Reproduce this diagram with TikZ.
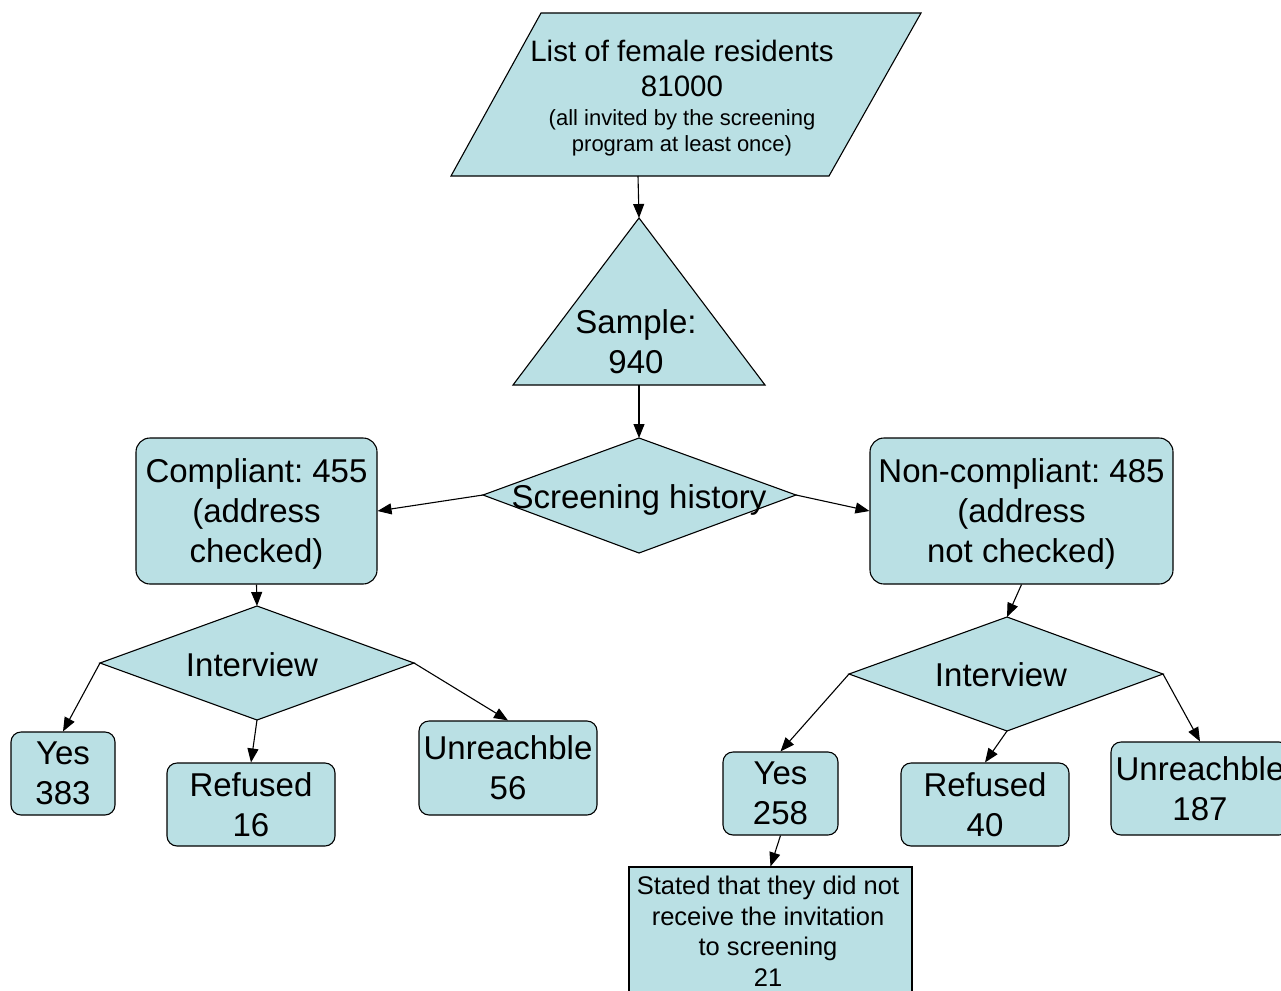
\documentclass[tikz,border=0pt]{standalone}
\usepackage{fontspec}
\setmainfont{Liberation Sans}
\usetikzlibrary{arrows.meta}
\definecolor{boxfill}{RGB}{186,224,228}
\frenchspacing
\begin{document}
\begin{tikzpicture}[x=1pt,y=-1pt,
 shp/.style={draw=black, fill=boxfill, line width=1.1pt},
 rbox/.style={shp, rounded corners=10pt, inner sep=0pt, align=center, text depth=-3.5pt, font=\fontsize{33}{40}\selectfont},
 lbl/.style={inner sep=0pt, align=center, font=\fontsize{33}{40}\selectfont},
 conn/.style={draw=black, line width=1.1pt, -{Triangle[length=14pt,width=11pt]}}
]
\useasboundingbox (0,0) rectangle (1281,990);
\fill[white] (0,0) rectangle (1281,990);
\clip (0,0) rectangle (1281,990);

% parallelogram
\draw[shp] (541,13) -- (921,13) -- (829,176) -- (451,176) -- cycle;
\coordinate (pB) at (638,176);
\node[lbl, font=\fontsize{29.5}{35}\selectfont] (title) at (682,68) {List of female residents\\81000};
\node[lbl, font=\fontsize{22}{26}\selectfont] (subtitle) at (682,133) {(all invited by the screening\\program at least once)};

% triangle
\draw[shp] (639,218) coordinate (triTop) -- (765,385) -- (513,385) -- cycle;
\coordinate (triBot) at (639,385);
\node[lbl] (sample) at (636,341.5) {Sample:\\940};

% screening history diamond
\draw[shp] (639,438) coordinate (shTop) -- (796,495) coordinate (shR) -- (639,553) -- (483,495) coordinate (shL) -- cycle;
\node[lbl] (shtxt) at (639,500) {Screening history};

% compliant / non-compliant
\node[rbox, rounded corners=14pt, minimum width=241pt, minimum height=146pt] (comp) at (256.5,511) {Compliant: 455\\(address\\checked)};
\node[rbox, rounded corners=14pt, minimum width=303pt, minimum height=146pt] (noncomp) at (1021.5,511) {Non-compliant: 485\\(address\\not checked)};

% interview diamonds
\draw[shp] (257,606) coordinate (i1T) -- (414,663) coordinate (i1R) -- (257,720) coordinate (i1B) -- (100,663) coordinate (i1L) -- cycle;
\node[lbl] (i1txt) at (252,665) {Interview};
\draw[shp] (1007,617) coordinate (i2T) -- (1163,674) coordinate (i2R) -- (1007,731) coordinate (i2B) -- (849,674) coordinate (i2L) -- cycle;
\node[lbl] (i2txt) at (1001,675) {Interview};

% outcome boxes
\node[rbox, minimum width=104pt, minimum height=83pt] (yes1) at (63,773.5) {Yes\\383};
\node[rbox, minimum width=168pt, minimum height=83pt] (ref1) at (251,804.5) {Refused\\16};
\node[rbox, minimum width=178pt, minimum height=94pt] (unr1) at (508,768) {Unreachble\\56};
\node[rbox, minimum width=115pt, minimum height=83pt] (yes2) at (780.5,793.5) {Yes\\258};
\node[rbox, minimum width=168pt, minimum height=83pt] (ref2) at (985,804.5) {Refused\\40};
\node[rbox, minimum width=178pt, minimum height=93pt] (unr2) at (1200,788.5) {Unreachble\\187};

% stated box
\node[shp, inner sep=0pt, minimum width=283pt, minimum height=143pt] (stated) at (770.5,938.5) {};
\node[lbl, font=\fontsize{25.5}{30.5}\selectfont] (statedtxt) at (768,931) {Stated that they did not\\receive the invitation\\to screening\\21};

% connectors
\draw[conn] (pB) -- (triTop);
\draw[conn] (triBot) -- (shTop);
\draw[conn] (shL) -- (comp.east);
\draw[conn] (shR) -- (noncomp.west);
\draw[conn] (comp.south) -- (i1T);
\draw[conn] (noncomp.south) -- (i2T);
\draw[conn] (i1L) -- (yes1.north);
\draw[conn] (i1B) -- (ref1.north);
\draw[conn] (i1R) -- (unr1.north);
\draw[conn] (i2L) -- (yes2.north);
\draw[conn] (i2B) -- (ref2.north);
\draw[conn] (i2R) -- (unr2.north);
\draw[conn] (yes2.south) -- (stated.north);
\end{tikzpicture}
\end{document}
